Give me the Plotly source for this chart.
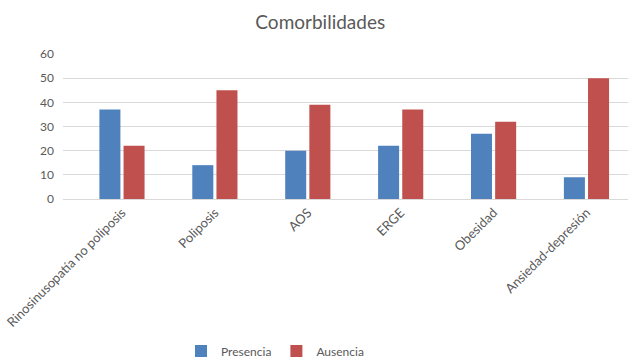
import plotly.graph_objects as go

categories = ["Rinosinusopatía no poliposis", "Poliposis", "AOS", "ERGE", "Obesidad", "Ansiedad-depresión"]
presencia = [37, 14, 20, 22, 27, 9]
ausencia = [22, 45, 39, 37, 32, 50]
y_ticks = [0, 10, 20, 30, 40, 50, 60]

FONT = "Lato, 'Open Sans', sans-serif"
GRAY = "#595959"

fig = go.Figure()
fig.add_trace(go.Bar(x=categories, y=presencia, name="Presencia", marker_color="#4F81BD",
                     marker_line_width=0))
fig.add_trace(go.Bar(x=categories, y=ausencia, name="Ausencia", marker_color="#C0504D",
                     marker_line_width=0))

fig.update_layout(
    width=628, height=360,
    margin=dict(l=63, r=0, t=54, b=161),
    paper_bgcolor="white", plot_bgcolor="white",
    font=dict(family=FONT, color=GRAY, size=12),
    title=dict(text="Comorbilidades", x=0.51, xref="container", y=1 - 22/360, yref="container",
               xanchor="center", yanchor="middle", font=dict(size=19, color=GRAY, family=FONT)),
    barmode="group", bargap=0.48, bargroupgap=0.13,
    showlegend=True,
    legend=dict(orientation="h", xref="container", yref="container", x=275/628, y=9/360,
                xanchor="center", yanchor="middle", font=dict(size=12, color=GRAY),
                itemwidth=30, traceorder="normal"),
    xaxis=dict(range=[-0.635, 5.447], tickangle=-45, showgrid=False, showline=True,
               linecolor="#D9D9D9", linewidth=1, ticks="", tickfont=dict(size=13, color=GRAY)),
    yaxis=dict(range=[0, 60], tickvals=y_ticks, showgrid=True, gridcolor="#D9D9D9",
               gridwidth=1, zeroline=False, showline=False, ticks="",
               ticklabelstandoff=8, tickfont=dict(size=12, color=GRAY)),
)

fig.write_html("out.html")
